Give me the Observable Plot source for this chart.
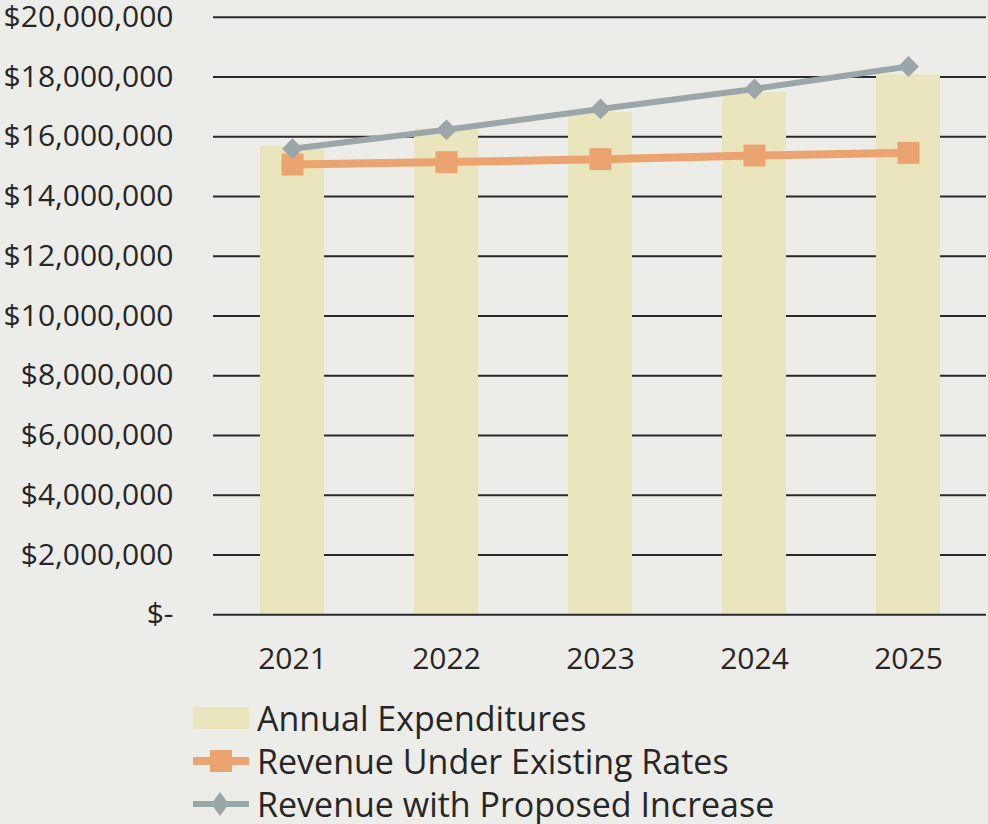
<!DOCTYPE html>
<html>
<head>
<meta charset="utf-8">
<script src="https://cdn.jsdelivr.net/npm/d3@7"></script>
<script src="https://cdn.jsdelivr.net/npm/@observablehq/plot@0.6"></script>
<style>
  html, body { margin: 0; padding: 0; background: #ecece9; }
  body { width: 988px; height: 824px; position: relative; overflow: hidden; font-family: "Open Sans", sans-serif; color: #262626; }
  #chart { position: absolute; left: 0; top: 0; }
  .leg { position: absolute; left: 193px; height: 36px; display: flex; align-items: center; font-size: 34px; line-height: 1; white-space: nowrap; }
  .leg svg { margin-right: 8px; flex: none; }
</style>
</head>
<body>
<div id="chart"></div>
<div id="legend"></div>
<script>
const years = ["2021", "2022", "2023", "2024", "2025"];
const expenditures = [15670000, 16260000, 16810000, 17480000, 18070000];
const revenueExisting = [15070000, 15150000, 15250000, 15370000, 15460000];
const revenueProposed = [15600000, 16230000, 16930000, 17600000, 18350000];
const yTicks = [0, 2000000, 4000000, 6000000, 8000000, 10000000, 12000000, 14000000, 16000000, 18000000, 20000000];
const seriesNames = ["Annual Expenditures", "Revenue Under Existing Rates", "Revenue with Proposed Increase"];

const colors = { bar: "#e9e6bd", orange: "#eba46f", gray: "#9ba6a9", grid: "#2a2a2a", text: "#262626" };

const fmt = d => d === 0 ? "$-" : "$" + d3.format(",")(d);

const rows = years.map((y, i) => ({ year: y, exp: expenditures[i], ex: revenueExisting[i], pr: revenueProposed[i] }));

const chart = Plot.plot({
  width: 988,
  height: 690,
  marginTop: 16.7,
  marginBottom: 75.7,
  marginLeft: 213,
  marginRight: 2,
  style: { fontFamily: "Open Sans", color: colors.text, background: "transparent", fontSize: "30px", overflow: "visible" },
  x: { domain: years, paddingInner: 0.586, paddingOuter: 0.293, label: null },
  y: { domain: [0, 20000000], label: null },
  marks: [
    Plot.ruleY(yTicks.filter(d => d > 0), { stroke: colors.grid, strokeWidth: 2 }),
    Plot.barY(rows, { x: "year", y: "exp", fill: colors.bar }),
    Plot.ruleY([0], { stroke: colors.grid, strokeWidth: 2 }),
    Plot.line(rows, { x: "year", y: "ex", stroke: colors.orange, strokeWidth: 8 }),
    Plot.dot(rows, { x: "year", y: "ex", symbol: "square", r: 12.4, fill: colors.orange }),
    Plot.line(rows, { x: "year", y: "pr", stroke: colors.gray, strokeWidth: 6 }),
    Plot.dot(rows, { x: "year", y: "pr", symbol: "diamond2", r: 9.4, fill: colors.gray }),
    Plot.axisY({ ticks: yTicks, tickFormat: fmt, tickSize: 0, tickPadding: 40, fontSize: 30, fill: colors.text, label: null }),
    Plot.axisX({ tickSize: 0, tickPadding: 33, fontSize: 30, fill: colors.text, label: null })
  ]
});
document.getElementById("chart").appendChild(chart);

const legend = document.getElementById("legend");
const tops = [700, 743, 786];
const swatches = [
  `<svg width="56" height="30"><rect x="0" y="4" width="56" height="22" fill="${colors.bar}"/></svg>`,
  `<svg width="56" height="30"><line x1="0" x2="56" y1="15" y2="15" stroke="${colors.orange}" stroke-width="8"/><rect x="17" y="4" width="22" height="22" fill="${colors.orange}"/></svg>`,
  `<svg width="56" height="30"><line x1="0" x2="56" y1="15" y2="15" stroke="${colors.gray}" stroke-width="6"/><path d="M27,3 L36,15 L27,27 L18,15 Z" fill="${colors.gray}"/></svg>`
];
seriesNames.forEach((name, i) => {
  const d = document.createElement("div");
  d.className = "leg";
  d.style.top = tops[i] + "px";
  d.innerHTML = swatches[i] + `<span>${name}</span>`;
  legend.appendChild(d);
});
</script>
</body>
</html>
